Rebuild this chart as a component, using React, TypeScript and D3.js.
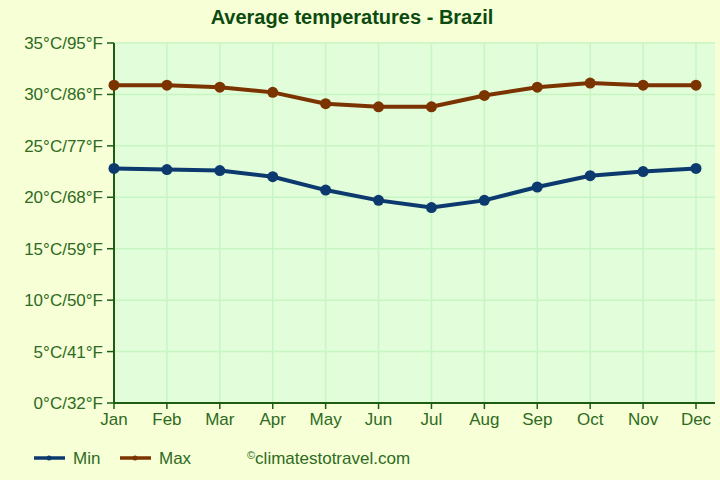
import * as d3 from 'd3';
import React from 'react';

// monthly averages
const months = ['Jan', 'Feb', 'Mar', 'Apr', 'May', 'Jun', 'Jul', 'Aug', 'Sep', 'Oct', 'Nov', 'Dec'];
const minTemps = [22.8, 22.7, 22.6, 22.0, 20.7, 19.7, 19.0, 19.7, 21.0, 22.1, 22.5, 22.8];
const maxTemps = [30.9, 30.9, 30.7, 30.2, 29.1, 28.8, 28.8, 29.9, 30.7, 31.1, 30.9, 30.9];
const yTicks = [0, 5, 10, 15, 20, 25, 30, 35];

const params = {
    width: 720,
    height: 480,
    left: 114,
    plotRight: 715,
    lastMonth: 696,
    top: 43,
    bottom: 403,
};

const colors = {
    bg: '#f6ffd6',
    plot: '#e2fdd9',
    grid: '#c8f5c4',
    axis: '#1d5c12',
    text: '#2f6a22',
    title: '#0d4a10',
    min: '#0c3a6e',
    max: '#7b3300',
};

const App = () => {
    const x = d3.scalePoint<string>().domain(months).range([params.left, params.lastMonth]);
    const y = d3.scaleLinear().domain([0, 35]).range([params.bottom, params.top]);
    const fahr = (c: number) => Math.round(c * 9 / 5 + 32);
    const line = d3.line<number>().x((d, i) => x(months[i]) as number).y(d => y(d));

    const series = [
        { name: 'Min', values: minTemps, color: colors.min },
        { name: 'Max', values: maxTemps, color: colors.max },
    ];

    return (
        <svg width={params.width} height={params.height}
            style={{ position: 'absolute', left: 0, top: 0, background: colors.bg, fontFamily: 'Arial, "Liberation Sans", sans-serif' }}>
            <rect x={0} y={0} width={params.width} height={params.height} fill={colors.bg} />
            <text x={352} y={24} textAnchor="middle" fontSize={20} fontWeight="bold" fill={colors.title}>
                Average temperatures - Brazil
            </text>
            <rect x={params.left} y={params.top} width={params.plotRight - params.left}
                height={params.bottom - params.top} fill={colors.plot} />
            {yTicks.map(t => (
                <line key={'gy' + t} x1={params.left} x2={params.plotRight} y1={y(t)} y2={y(t)}
                    stroke={colors.grid} strokeWidth={1.5} />
            ))}
            {months.map(m => (
                <line key={'gx' + m} x1={x(m)} x2={x(m)} y1={params.top} y2={params.bottom}
                    stroke={colors.grid} strokeWidth={1.5} />
            ))}
            {/* axes */}
            <line x1={params.left} x2={params.left} y1={params.top} y2={params.bottom} stroke={colors.axis} strokeWidth={2} />
            <line x1={params.left} x2={params.plotRight} y1={params.bottom} y2={params.bottom} stroke={colors.axis} strokeWidth={2} />
            {yTicks.map(t => (
                <g key={'ty' + t}>
                    <line x1={params.left - 7} x2={params.left} y1={y(t)} y2={y(t)} stroke={colors.axis} strokeWidth={1.5} />
                    <text x={params.left - 11} y={y(t) + 6} textAnchor="end" fontSize={17} fill={colors.text}>
                        {t}°C/{fahr(t)}°F
                    </text>
                </g>
            ))}
            {months.map(m => (
                <g key={'tx' + m}>
                    <line x1={x(m)} x2={x(m)} y1={params.bottom} y2={params.bottom + 6} stroke={colors.axis} strokeWidth={1.5} />
                    <text x={x(m)} y={params.bottom + 22} textAnchor="middle" fontSize={17} fill={colors.text}>{m}</text>
                </g>
            ))}
            {series.map(s => (
                <g key={s.name}>
                    <path d={line(s.values) || ''} fill="none" stroke={s.color} strokeWidth={4} strokeLinejoin="round" />
                    {s.values.map((v, i) => (
                        <circle key={i} cx={x(months[i])} cy={y(v)} r={5.5} fill={s.color} />
                    ))}
                </g>
            ))}
            {/* legend */}
            {series.map((s, i) => (
                <g key={'lg' + s.name} transform={`translate(${34 + i * 86},458)`}>
                    <line x1={0} x2={31} y1={0} y2={0} stroke={s.color} strokeWidth={3.5} />
                    <circle cx={15} cy={0} r={2.5} fill={s.color} />
                    <text x={39} y={6} fontSize={17} fill={colors.text}>{s.name}</text>
                </g>
            ))}
            <text x={247} y={464} fontSize={17} fill={colors.text}>
                <tspan fontSize={11} dy={-5}>©</tspan><tspan dy={5}>climatestotravel.com</tspan>
            </text>
        </svg>
    );
};

export default App;
